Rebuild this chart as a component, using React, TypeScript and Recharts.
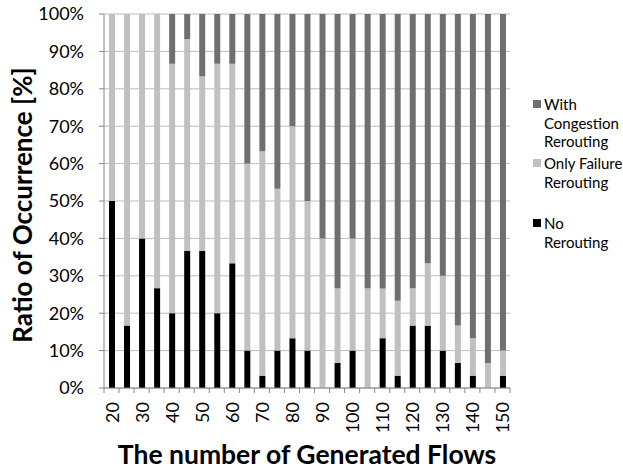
import React from "react";
import { BarChart, Bar, XAxis, YAxis, CartesianGrid } from "recharts";

const flows = [
  "20", "25", "30", "35", "40", "45", "50", "55", "60", "65", "70", "75", "80", "85",
  "90", "95", "100", "105", "110", "115", "120", "125", "130", "135", "140", "145", "150",
];

// percent of runs in each category
const noRerouting = [
  50, 16.7, 40, 26.7, 20, 36.7, 36.7, 20, 33.3, 10, 3.3, 10, 13.3, 10, 0, 6.7, 10, 0,
  13.3, 3.3, 16.7, 16.7, 10, 6.7, 3.3, 0, 3.3,
];
const onlyFailure = [
  50, 83.3, 60, 73.3, 66.7, 56.7, 46.7, 66.7, 53.3, 50, 60, 43.3, 56.7, 40, 40, 20, 30,
  26.7, 13.3, 20, 10, 16.7, 20, 10, 10, 6.7, 6.7,
];
const withCongestion = [
  0, 0, 0, 0, 13.3, 6.7, 16.7, 13.3, 13.3, 40, 36.7, 46.7, 30, 50, 60, 73.3, 60, 73.3,
  73.3, 76.7, 73.3, 66.7, 70, 83.3, 86.7, 93.3, 90,
];

const yTicks = [0, 0.1, 0.2, 0.3, 0.4, 0.5, 0.6, 0.7, 0.8, 0.9, 1];

const legendItems = [
  { lines: ["With", "Congestion", "Rerouting"], color: "#6f6f6f", top: 95 },
  { lines: ["Only Failure", "Rerouting"], color: "#c0c0c0", top: 154 },
  { lines: ["No", "Rerouting"], color: "#000000", top: 214 },
];

const data = flows.map((f, i) => ({
  flow: f,
  none: noRerouting[i],
  failure: onlyFailure[i],
  congestion: withCongestion[i],
}));

const W = 623;
const H = 470;
const M = { top: 14, right: 113, left: 0, bottom: 0 };
const Y_W = 104;
const X_H = 82;
const FONT = "Lato, 'Open Sans', sans-serif";
const AXIS = "#868686";

const halfBand = (W - M.right - M.left - Y_W) / flows.length / 2;

const XTick = (props: any) => {
  const { x, y, payload, index } = props;
  const last = index === flows.length - 1;
  return (
    <g>
      <line x1={x - halfBand} y1={y - 8} x2={x - halfBand} y2={y - 3} stroke={AXIS} />
      {last && <line x1={x + halfBand} y1={y - 8} x2={x + halfBand} y2={y - 3} stroke={AXIS} />}
      {index % 2 === 0 && (
        <text
          x={x}
          y={y + 6}
          transform={`rotate(-90 ${x} ${y + 6})`}
          textAnchor="end"
          dominantBaseline="central"
          fontSize={18}
          fontFamily={FONT}
          fill="#000"
        >
          {payload.value}
        </text>
      )}
    </g>
  );
};

const YTitle = (props: any) => {
  const vb = props.viewBox || {};
  const cy = vb.y + vb.height / 2 + 4;
  return (
    <text
      x={22}
      y={cy}
      transform={`rotate(-90 22 ${cy})`}
      textAnchor="middle"
      dominantBaseline="central"
      fontSize={26}
      fontWeight="bold"
      fontFamily={FONT}
      fill="#000"
    >
      Ratio of Occurrence [%]
    </text>
  );
};

const XTitle = (props: any) => {
  const vb = props.viewBox || {};
  const cx = vb.x + vb.width / 2;
  return (
    <text
      x={cx}
      y={464}
      textAnchor="middle"
      fontSize={26.5}
      fontWeight="bold"
      fontFamily={FONT}
      fill="#000"
    >
      The number of Generated Flows
    </text>
  );
};

export default function App() {
  return (
    <div style={{ position: "absolute", left: 0, top: 0, width: W, height: H, background: "#fff" }}>
      <BarChart
        width={W}
        height={H}
        data={data}
        margin={M}
        stackOffset="expand"
        barSize={6}
      >
        <CartesianGrid vertical={false} stroke="#bdbdbd" />
        <XAxis
          dataKey="flow"
          interval={0}
          height={X_H}
          stroke={AXIS}
          tickLine={false}
          tick={<XTick />}
          label={<XTitle />}
        />
        <YAxis
          width={Y_W}
          domain={[0, 1]}
          ticks={yTicks}
          tickFormatter={(v: number) => `${Math.round(v * 100)}%`}
          stroke={AXIS}
          tickSize={5}
          tickMargin={15}
          tick={{ fontSize: 18, fontFamily: FONT, fill: "#000" }}
          label={<YTitle />}
        />
        <Bar dataKey="none" stackId="a" fill="#000000" isAnimationActive={false} />
        <Bar dataKey="failure" stackId="a" fill="#c0c0c0" isAnimationActive={false} />
        <Bar dataKey="congestion" stackId="a" fill="#6f6f6f" isAnimationActive={false} />
      </BarChart>
      {legendItems.map((item) => (
        <div
          key={item.lines.join(" ")}
          style={{
            position: "absolute",
            left: 533,
            top: item.top,
            fontFamily: FONT,
            fontSize: 15,
            lineHeight: "18.5px",
            color: "#000",
          }}
        >
          <span
            style={{
              position: "absolute",
              left: 0,
              top: 5,
              width: 8,
              height: 8,
              background: item.color,
            }}
          />
          <div style={{ marginLeft: 11 }}>
            {item.lines.map((l) => (
              <div key={l}>{l}</div>
            ))}
          </div>
        </div>
      ))}
    </div>
  );
}
